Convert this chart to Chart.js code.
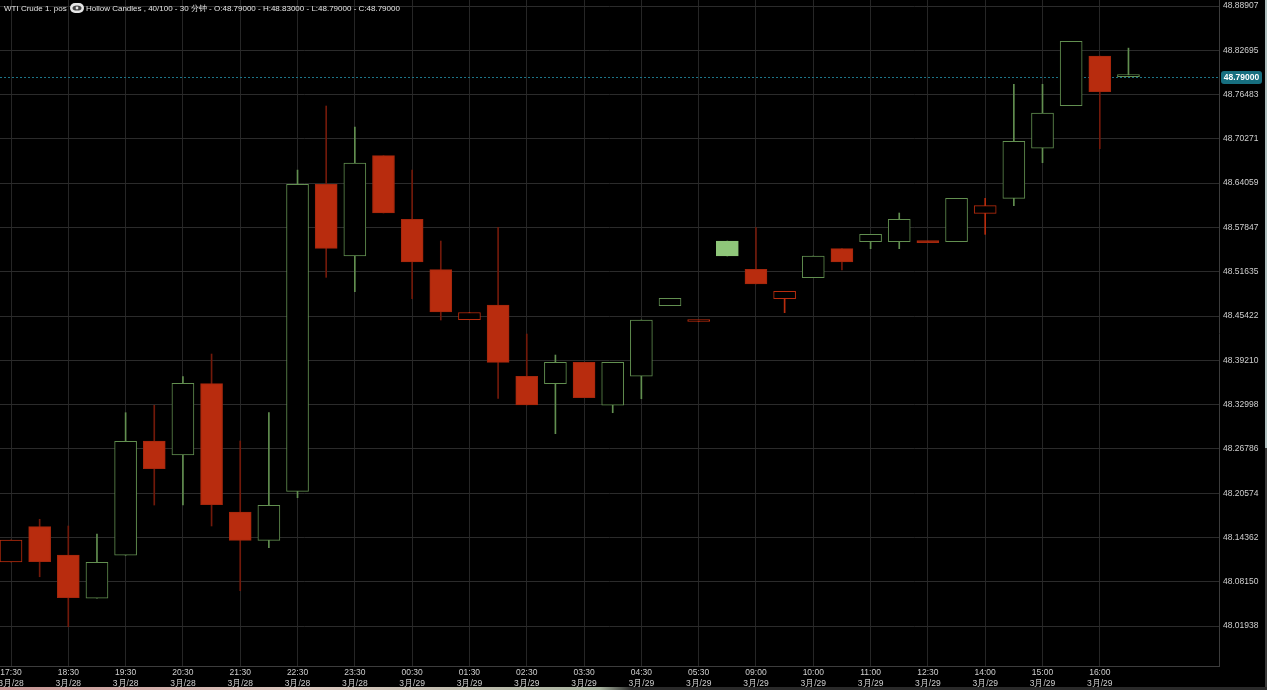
<!DOCTYPE html>
<html><head><meta charset="utf-8">
<script src="https://cdn.jsdelivr.net/npm/chart.js@4.4.1/dist/chart.umd.min.js"></script>
<style>
html,body{margin:0;padding:0;background:#000;overflow:hidden;}
#wrap{position:relative;width:1267px;height:690px;background:#000;}
#c{position:absolute;left:0;top:0;}
#title{position:absolute;left:4px;top:3px;font:8px "Liberation Sans",Arial,sans-serif;color:#e4e4e4;white-space:nowrap;line-height:11px;}
#eye{display:inline-block;width:14px;height:10px;background:#e6e6e6;border-radius:5px;vertical-align:-2px;margin:0 2px 0 1px;position:relative;}
#eye svg{position:absolute;left:2px;top:2px;}
#rstrip{position:absolute;left:1265px;top:0;width:2px;height:448px;background:#aebfbf;}
#rstrip2{position:absolute;left:1265px;top:448px;width:2px;height:240px;background:#3a3a3a;}
#bstrip{position:absolute;left:0;top:687px;width:1267px;height:3px;background:linear-gradient(90deg,#c89494 0px,#dcc8c0 300px,#a8b4a0 600px,#2a2a2a 632px,#2a2a2a 1267px);}
</style></head>
<body><div id="wrap">
<canvas id="c" width="1267" height="690"></canvas>
<div id="title">WTI Crude 1. pos <span id="eye"><svg width="10" height="6" viewBox="0 0 10 6"><ellipse cx="5" cy="3" rx="4.5" ry="2.6" fill="#444"/><circle cx="5" cy="3" r="1.4" fill="#e6e6e6"/></svg></span>Hollow Candles , 40/100 - 30 分钟 - O:48.79000 - H:48.83000 - L:48.79000 - C:48.79000</div>
<div id="rstrip"></div><div id="rstrip2"></div><div id="bstrip"></div>
</div>
<script>
// ---- data ----
const tickTimes = ['17:30','18:30','19:30','20:30','21:30','22:30','23:30','00:30','01:30','02:30','03:30','04:30','05:30','09:00','10:00','11:00','12:30','14:00','15:00','16:00'];
const tickDates = ['3月/28','3月/28','3月/28','3月/28','3月/28','3月/28','3月/28','3月/29','3月/29','3月/29','3月/29','3月/29','3月/29','3月/29','3月/29','3月/29','3月/29','3月/29','3月/29','3月/29'];
const yTicks = [48.88907,48.82695,48.76483,48.70271,48.64059,48.57847,48.51635,48.45422,48.39210,48.32998,48.26786,48.20574,48.14362,48.08150,48.01938];
const priorClose = 48.16;
const open  = [48.1092,48.1587,48.1190,48.0583,48.1186,48.2789,48.2593,48.3593,48.1793,48.1396,48.2083,48.6390,48.5384,48.6791,48.5899,48.5192,48.4490,48.4697,48.3697,48.3593,48.3893,48.3290,48.3697,48.4687,48.4465,48.5594,48.5198,48.4785,48.5080,48.5487,48.5585,48.5585,48.5594,48.5585,48.5983,48.6193,48.6895,48.7492,48.8189,48.7900];
const high  = [48.1400,48.1691,48.1597,48.1485,48.3186,48.3290,48.3691,48.4009,48.2789,48.3186,48.6590,48.7488,48.7194,48.6791,48.6590,48.5594,48.4592,48.5787,48.4290,48.3995,48.3893,48.3893,48.4486,48.4791,48.4480,48.5594,48.5781,48.4889,48.5384,48.5487,48.5688,48.5987,48.5594,48.6193,48.6193,48.7793,48.7793,48.8396,48.8189,48.8300];
const low   = [48.1092,48.0885,48.0184,48.0583,48.1186,48.1891,48.1891,48.1597,48.0689,48.1292,48.1994,48.5085,48.4883,48.5987,48.4785,48.4486,48.4490,48.3388,48.3294,48.2892,48.3396,48.3186,48.3382,48.4687,48.4465,48.5384,48.4991,48.4589,48.5080,48.5188,48.5487,48.5487,48.5571,48.5585,48.5688,48.6090,48.6693,48.7492,48.6889,48.7900];
const close = [48.1400,48.1096,48.0591,48.1088,48.2785,48.2400,48.3598,48.1896,48.1396,48.1887,48.6390,48.5492,48.6689,48.5987,48.5300,48.4600,48.4592,48.3893,48.3294,48.3893,48.3396,48.3893,48.4486,48.4791,48.4480,48.5384,48.4991,48.4889,48.5384,48.5300,48.5688,48.5899,48.5571,48.6193,48.6090,48.6993,48.7390,48.8396,48.7689,48.7900];
const lastPrice = 48.79;

// ---- styling ----
const GREEN='#628f50', GREEN_FILL='#8fc67a', RED='#b82c0e', RED_EDGE='#a4270d', RED_WICK='#72190a';
const FONT = {family:'"Liberation Sans", Arial, sans-serif', size:8.5};
function st(i){
  const prev = i===0 ? priorClose : close[i-1];
  const up = close[i] >= prev;
  const hollow = close[i] >= open[i];
  if (up) return {fill: hollow ? '#000' : GREEN_FILL, edge: hollow ? GREEN : GREEN_FILL, wick: GREEN};
  return {fill: hollow ? '#000' : RED, edge: hollow ? RED : RED_EDGE, wick: hollow ? RED : RED_WICK};
}
const idx = close.map((_,i)=>i);

const bgPlugin = {id:'bg', beforeDraw(ch){const c=ch.ctx;c.save();c.fillStyle='#000';c.fillRect(0,0,ch.width,ch.height);c.restore();}};
const pricePlugin = {
  id:'price',
  beforeDatasetsDraw(ch){
    const c=ch.ctx, a=ch.chartArea, y=Math.round(ch.scales.y.getPixelForValue(lastPrice))+0.5;
    c.save();c.strokeStyle='#1d7487';c.lineWidth=1;c.setLineDash([2,2]);
    c.beginPath();c.moveTo(a.left,y);c.lineTo(a.right,y);c.stroke();c.restore();
  },
  afterDraw(ch){
    const c=ch.ctx, a=ch.chartArea, y=ch.scales.y.getPixelForValue(lastPrice);
    const x=a.right+2, w=41, h=13, r=3, t=Math.round(y)-6;
    c.save();c.fillStyle='#176f80';
    c.beginPath();c.moveTo(x+r,t);c.lineTo(x+w-r,t);c.quadraticCurveTo(x+w,t,x+w,t+r);c.lineTo(x+w,t+h-r);c.quadraticCurveTo(x+w,t+h,x+w-r,t+h);c.lineTo(x+r,t+h);c.quadraticCurveTo(x,t+h,x,t+h-r);c.lineTo(x,t+r);c.quadraticCurveTo(x,t,x+r,t);c.fill();
    c.fillStyle='#ffffff';c.font='bold 8.5px "Liberation Sans", Arial, sans-serif';c.textBaseline='middle';c.textAlign='center';
    c.fillText(lastPrice.toFixed(5), x+w/2, t+h/2+0.5);c.restore();
  }
};

new Chart(document.getElementById('c'), {
  type:'bar',
  data:{datasets:[
    {label:'wick', data: idx.map(i=>({x:i,y:[low[i],high[i]]})), barThickness:1, grouped:false, order:2,
     backgroundColor: ctx=>st(ctx.dataIndex).wick, borderWidth:0, minBarLength:0},
    {label:'body', data: idx.map(i=>({x:i,y:[open[i],close[i]]})), barThickness:22, grouped:false, order:1,
     backgroundColor: ctx=>st(ctx.dataIndex).fill, borderColor: ctx=>st(ctx.dataIndex).edge, borderWidth:1, borderSkipped:false, minBarLength:2}
  ]},
  options:{
    responsive:false, animation:false, events:[],
    layout:{padding:0},
    plugins:{legend:{display:false}, tooltip:{enabled:false}},
    scales:{
      x:{type:'linear', min:-0.384, max:42.16, offset:false,
        afterBuildTicks: s=>{ s.ticks = tickTimes.map((_,k)=>({value:k*2})); },
        afterFit: s=>{ s.height=24; s.paddingLeft=0; s.paddingRight=0; },
        grid:{color:'#262626', drawTicks:false, offset:false},
        border:{color:'#3c3c3c'},
        ticks:{autoSkip:false, maxRotation:0, minRotation:0, padding:2, color:'#cfcfcf', font:FONT,
          callback:(v,k)=>[tickTimes[k], tickDates[k]]}
      },
      y:{position:'right', min:47.9633, max:48.8975,
        afterBuildTicks: s=>{ s.ticks = yTicks.map(v=>({value:v})); },
        afterFit: s=>{ s.width=48; s.paddingTop=0; s.paddingBottom=0; },
        grid:{color:'#2b2b2b', drawTicks:false},
        border:{color:'#3c3c3c'},
        ticks:{autoSkip:false, padding:4, color:'#cfcfcf', font:FONT, callback:v=>Number(v).toFixed(5)}
      }
    }
  },
  plugins:[bgPlugin, pricePlugin]
});
</script>
</body></html>
